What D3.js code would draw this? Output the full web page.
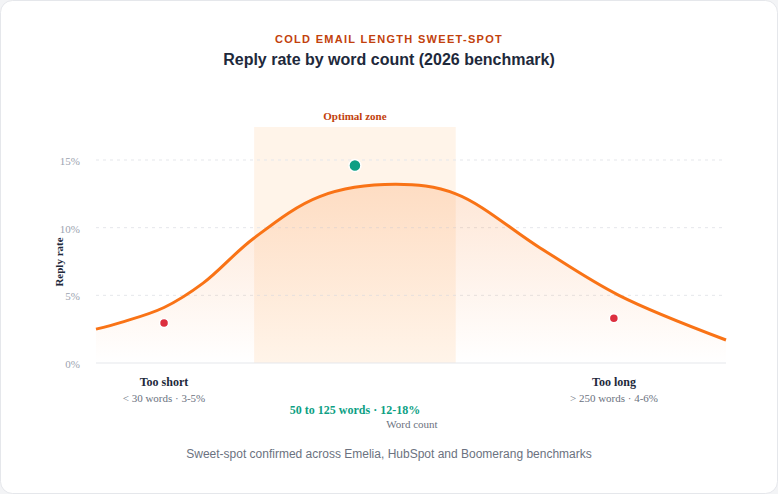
<!DOCTYPE html><html><head><meta charset="utf-8">
<script src="https://cdn.jsdelivr.net/npm/d3@7"></script>
<style>body{margin:0;background:#f3f4f6}svg{display:block}</style></head><body>
<svg id="c" width="778" height="494"></svg>
<script>
const curveX=[0,4,10.8,17,25,35.5,47.5,57.1,70.5,83,100];
const curveY=[2.5,3.0,4.1,5.9,9.2,12.3,13.2,12.5,8.5,5.0,1.7];
const zone=[25.1,57.1];
const dots=[{x:41.1,y:14.6,c:"#0d9f84"},{x:10.8,y:2.95,c:"#dc2f3f"},{x:82.2,y:3.3,c:"#dc2f3f"}];
const yTicks=[0,5,10,15];
const svg=d3.select("#c");
svg.append("rect").attr("x",0.5).attr("y",0.5).attr("width",777).attr("height",493).attr("rx",12).attr("fill","#fff").attr("stroke","#e5e7eb");
const x=d3.scaleLinear().domain([0,100]).range([96,726]);
const y=d3.scaleLinear().domain([0,15]).range([363,160]);
const defs=svg.append("defs");
const g=defs.append("linearGradient").attr("id","ga").attr("x1",0).attr("y1",0).attr("x2",0).attr("y2",1);
g.append("stop").attr("offset","0%").attr("stop-color","#f97316").attr("stop-opacity",0.18);
g.append("stop").attr("offset","100%").attr("stop-color","#f97316").attr("stop-opacity",0.0);
svg.append("text").attr("x",389).attr("y",43).attr("text-anchor","middle").attr("font-family","Liberation Sans, Arial").attr("font-size",11).attr("font-weight","bold").attr("letter-spacing","1.3").attr("fill","#c2410c").text("COLD EMAIL LENGTH SWEET-SPOT");
svg.append("text").attr("x",389).attr("y",65).attr("text-anchor","middle").attr("font-family","Liberation Sans, Arial").attr("font-size",16).attr("font-weight","bold").attr("fill","#1e293b").text("Reply rate by word count (2026 benchmark)");
svg.append("rect").attr("x",x(zone[0])).attr("y",127).attr("width",x(zone[1])-x(zone[0])).attr("height",363-127).attr("fill","#fff1e3").attr("opacity",0.8);
svg.append("text").attr("x",(x(zone[0])+x(zone[1]))/2).attr("y",120).attr("text-anchor","middle").attr("font-family","Liberation Serif").attr("font-size",11).attr("font-weight","bold").attr("fill","#c2410c").text("Optimal zone");
yTicks.forEach(t=>{
 if(t>0) svg.append("line").attr("x1",96).attr("x2",726).attr("y1",y(t)).attr("y2",y(t)).attr("stroke","#e5e7eb").attr("stroke-dasharray","3,4");
 svg.append("text").attr("x",80).attr("y",y(t)+5).attr("text-anchor","end").attr("font-family","Liberation Serif").attr("font-size",11).attr("fill","#9ca3af").text(t+"%");
});
svg.append("line").attr("x1",96).attr("x2",726).attr("y1",363).attr("y2",363).attr("stroke","#e5e7eb");
svg.append("text").attr("transform","translate(63,262) rotate(-90)").attr("text-anchor","middle").attr("font-family","Liberation Serif").attr("font-size",11).attr("font-weight","bold").attr("fill","#1e293b").text("Reply rate");
const pts=curveX.map((v,i)=>[v,curveY[i]]);
const cv=d3.curveCatmullRom.alpha(0.5);
svg.append("path").datum(pts).attr("d",d3.area().x(d=>x(d[0])).y0(363).y1(d=>y(d[1])).curve(cv)).attr("fill","url(#ga)");
svg.append("path").datum(pts).attr("d",d3.line().x(d=>x(d[0])).y(d=>y(d[1])).curve(cv)).attr("fill","none").attr("stroke","#f97316").attr("stroke-width",3);
dots.forEach(d=>svg.append("circle").attr("cx",x(d.x)).attr("cy",y(d.y)).attr("r",d.c==="#0d9f84"?6:4.5).attr("fill",d.c).attr("stroke","#fff").attr("stroke-width",1.5));
const lab=(xx,yy,t,s,w,c)=>svg.append("text").attr("x",xx).attr("y",yy).attr("text-anchor","middle").attr("font-family","Liberation Serif").attr("font-size",s).attr("font-weight",w).attr("fill",c).text(t);
lab(164,386,"Too short",12,"bold","#1e293b");
lab(164,402,"< 30 words · 3-5%",11,"normal","#6b7280");
lab(614,386,"Too long",12,"bold","#1e293b");
lab(614,402,"> 250 words · 4-6%",11,"normal","#6b7280");
lab(355,414,"50 to 125 words · 12-18%",12,"bold","#0d9f84");
lab(412,428,"Word count",11,"normal","#6b7280");
svg.append("text").attr("x",389).attr("y",458).attr("text-anchor","middle").attr("font-family","Liberation Sans, Arial").attr("font-size",12).attr("fill","#6b7280").text("Sweet-spot confirmed across Emelia, HubSpot and Boomerang benchmarks");
</script></body></html>
